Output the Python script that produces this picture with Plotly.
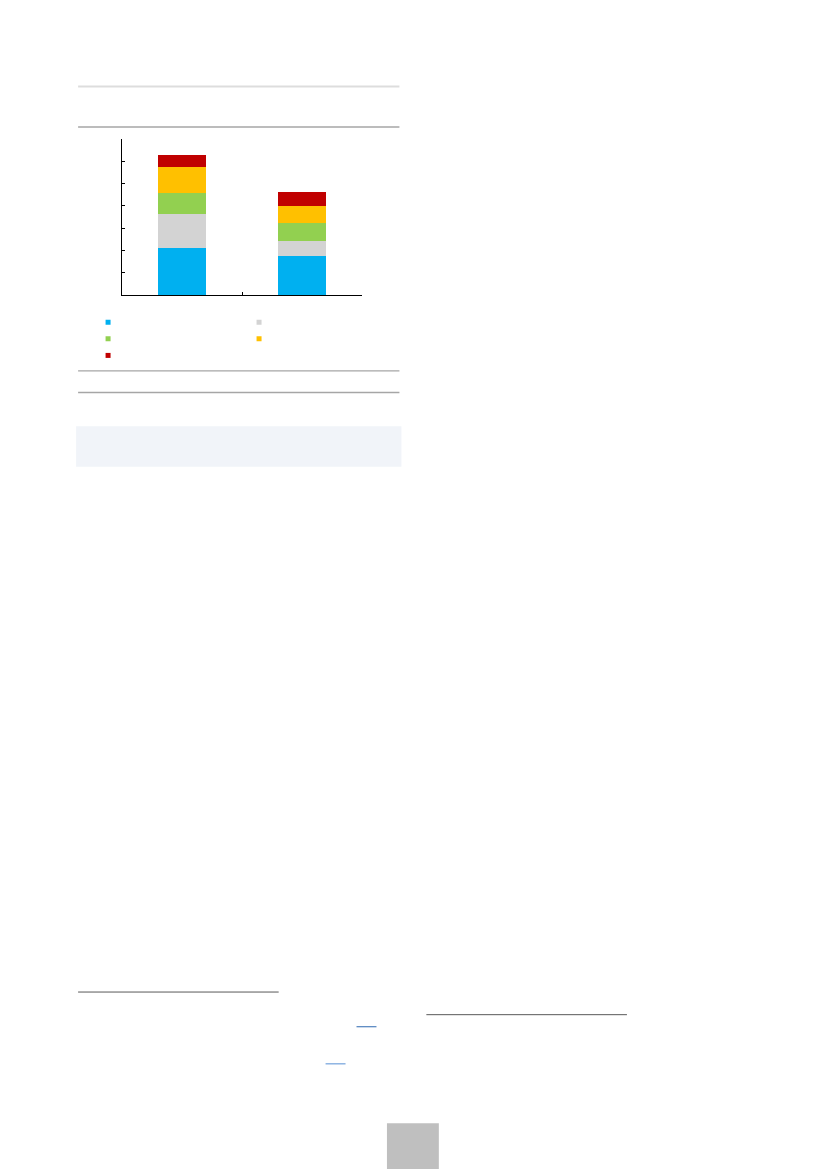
import plotly.graph_objects as go

# data (axis runs 0..7, tick every 1)
categories = ["Category 1", "Category 2"]
series_names = ["", "", "", "", ""]
series_colors = ["#00B0F0", "#D3D3D3", "#92D050", "#FFC000", "#C00000"]
blue_vals = [2.13, 1.75]
gray_vals = [1.51, 0.68]
green_vals = [0.95, 0.79]
yellow_vals = [1.14, 0.78]
red_vals = [0.56, 0.63]
y_range = [0, 7]

W, H = 827, 1169
OFF = 8  # the page body margin shifts the figure by 8px
# plot area in page pixels
L, R, T, B = 122, 362.5, 139.3, 295.0


def px(x):
    return (x - L) / (R - L)


def py(y):
    return (B - y) / (B - T)


# legend squares (page pixels), one small legend per entry
legend_pos = [(108, 322.3), (259.3, 322.3), (108, 338.7), (259.3, 338.7), (108, 355.3)]
legend_ids = ["legend", "legend2", "legend3", "legend4", "legend5"]

fig = go.Figure()
stack = [blue_vals, gray_vals, green_vals, yellow_vals, red_vals]
for vals, name, col, lg in zip(stack, series_names, series_colors, legend_ids):
    fig.add_trace(go.Bar(x=categories, y=vals, name=name, marker_color=col,
                         marker_line_width=0, showlegend=False))
    # small square legend proxy
    fig.add_trace(go.Scatter(x=[None], y=[None], mode="markers", name=name,
                             marker=dict(symbol="square", size=5, color=col),
                             legend=lg, showlegend=True))

fig.update_layout(
    width=W, height=H,
    margin=dict(l=L - OFF, r=W - R + OFF, t=T - OFF, b=H - B + OFF, pad=0),
    paper_bgcolor="white", plot_bgcolor="white",
    barmode="stack", bargap=0.6,
    font=dict(family="Liberation Sans", size=10, color="#000000"),
)
for lg, (lx, ly) in zip(legend_ids, legend_pos):
    fig.update_layout({lg: dict(orientation="v", xanchor="left", yanchor="middle",
                                x=px(lx - 20), y=py(ly),
                                bgcolor="rgba(0,0,0,0)", borderwidth=0,
                                font=dict(size=10))})

fig.update_xaxes(showline=True, linecolor="#000000", linewidth=1,
                 ticks="inside", ticklen=3, tickcolor="#000000",
                 tickson="boundaries", showticklabels=False, showgrid=False,
                 zeroline=False)
fig.update_yaxes(range=y_range, dtick=1, showline=True, linecolor="#000000",
                 linewidth=1, ticks="inside", ticklen=3, tickcolor="#000000",
                 showticklabels=False, showgrid=False, zeroline=False)


# page furniture around the chart
def hline(y, x0, x1, color, w):
    fig.add_shape(type="line", xref="paper", yref="paper",
                  x0=px(x0), x1=px(x1), y0=py(y), y1=py(y),
                  line=dict(color=color, width=w))


def box(x0, x1, y0, y1, color):
    fig.add_shape(type="rect", xref="paper", yref="paper",
                  x0=px(x0), x1=px(x1), y0=py(y0), y1=py(y1),
                  fillcolor=color, line_width=0, layer="below")


hline(87, 78, 400, "#DDDDDD", 2)
hline(127.3, 78, 400, "#A6A6A6", 1.3)
hline(370.7, 78, 400, "#A6A6A6", 1.3)
hline(392.3, 78, 400, "#A6A6A6", 1.3)
box(76, 402, 426, 466.5, "#F1F4F9")
hline(990.7, 78, 279, "#595959", 1)
hline(1013.3, 427, 628, "#595959", 1)
hline(1025.3, 357, 377, "#4F81BD", 1.2)
hline(1062.3, 326, 346, "#8EB4E3", 1.5)
box(387.5, 439.5, 1121.7, 1175, "#BFBFBF")

fig.write_html("out.html")
